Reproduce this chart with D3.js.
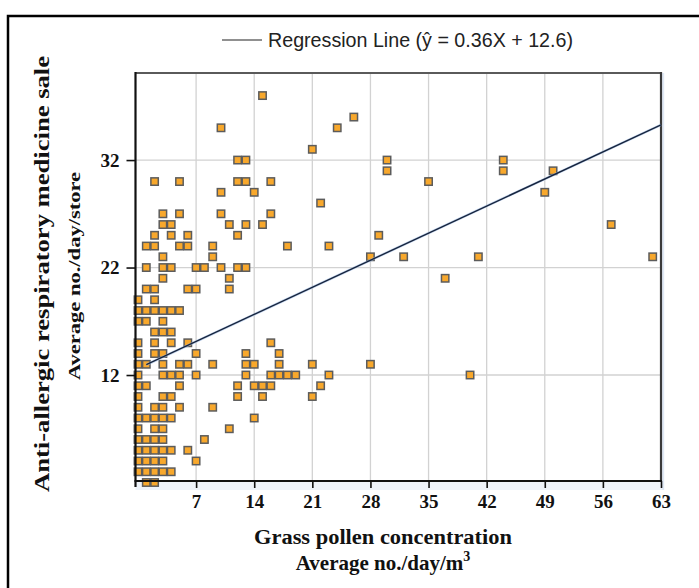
<!DOCTYPE html>
<html>
<head>
<meta charset="utf-8">
<script src="https://cdn.jsdelivr.net/npm/d3@7"></script>
<style>
  html, body { margin: 0; padding: 0; background: #fff; }
  svg { display: block; }
</style>
</head>
<body>
<script>
// Daily grass pollen concentration (x) against anti-allergic medicine sales (y),
// one entry per observation, listed row by row from the top of the chart.
const pollen = [
  15,
  26,
  10, 24,
  21,
  12, 13, 30, 44,
  30, 44, 50,
  2, 5, 12, 13, 16, 35,
  10, 14, 49,
  22,
  3, 5, 10, 16,
  3, 4, 11, 13, 15, 57,
  2, 4, 6, 12, 29,
  1, 2, 5, 6, 9, 18, 23,
  3, 9, 28, 32, 41, 62,
  1, 3, 4, 7, 8, 10, 12, 13,
  3, 11, 37,
  1, 2, 6, 7, 11,
  0, 2,
  0, 1, 2, 3, 4, 5,
  0, 1, 3,
  2, 3, 4,
  0, 2, 4, 6, 16,
  0, 2, 3, 7, 13, 17,
  0, 1, 3, 5, 6, 9, 13, 14, 17, 21, 28,
  0, 3, 4, 5, 7, 13, 16, 17, 18, 19, 23, 40,
  0, 1, 5, 12, 14, 15, 16, 22,
  0, 3, 4, 12, 15, 21,
  0, 2, 3, 5, 9,
  0, 1, 2, 3, 4, 14,
  0, 2, 3, 11,
  0, 1, 2, 3, 8,
  0, 1, 2, 3, 4, 6,
  0, 1, 2, 3, 7,
  0, 1, 2, 3, 4,
  1, 2
];
const sales = [
  38,
  36,
  35, 35,
  33,
  32, 32, 32, 32,
  31, 31, 31,
  30, 30, 30, 30, 30, 30,
  29, 29, 29,
  28,
  27, 27, 27, 27,
  26, 26, 26, 26, 26, 26,
  25, 25, 25, 25, 25,
  24, 24, 24, 24, 24, 24, 24,
  23, 23, 23, 23, 23, 23,
  22, 22, 22, 22, 22, 22, 22, 22,
  21, 21, 21,
  20, 20, 20, 20, 20,
  19, 19,
  18, 18, 18, 18, 18, 18,
  17, 17, 17,
  16, 16, 16,
  15, 15, 15, 15, 15,
  14, 14, 14, 14, 14, 14,
  13, 13, 13, 13, 13, 13, 13, 13, 13, 13, 13,
  12, 12, 12, 12, 12, 12, 12, 12, 12, 12, 12, 12,
  11, 11, 11, 11, 11, 11, 11, 11,
  10, 10, 10, 10, 10, 10,
  9, 9, 9, 9, 9,
  8, 8, 8, 8, 8, 8,
  7, 7, 7, 7,
  6, 6, 6, 6, 6,
  5, 5, 5, 5, 5, 5,
  4, 4, 4, 4, 4,
  3, 3, 3, 3, 3,
  2, 2
];

const xTicks = [7, 14, 21, 28, 35, 42, 49, 56, 63];
const yTicks = [12, 22, 32];

// Fitted regression line
const slope = 0.36;
const intercept = 12.6;
const fitRange = [1, 63];

const legendText = "Regression Line (\u0177 = 0.36X + 12.6)";
const xTitle1 = "Grass pollen concentration";
const xTitle2 = "Average no./day/m";
const yTitle1 = "Anti-allergic respiratory medicine sale";
const yTitle2 = "Average no./day/store";

const W = 699, H = 588;
const plot = { left: 135.5, right: 661, top: 73, bottom: 481 };

const svg = d3.select("body").append("svg")
  .attr("width", W).attr("height", H);

const x = d3.scaleLinear().domain([-0.3, 63]).range([plot.left, plot.right]);
const y = d3.scaleLinear().domain([2.14, 40.1]).range([plot.bottom, plot.top]);

const serif = "'Liberation Serif', 'Times New Roman', serif";

// outer frame
svg.append("rect")
  .attr("x", 8).attr("y", 16).attr("width", 800).attr("height", 700)
  .attr("fill", "none").attr("stroke", "#000").attr("stroke-width", 2.5);

// legend
const leg = svg.append("g");
leg.append("line")
  .attr("x1", 222).attr("x2", 262).attr("y1", 40).attr("y2", 40)
  .attr("stroke", "#222").attr("stroke-width", 1.2);
leg.append("text")
  .attr("x", 268).attr("y", 46.5)
  .attr("font-family", "'Liberation Sans Narrow', 'Arial Narrow', 'Liberation Sans', Arial, sans-serif")
  .attr("font-size", 19.5)
  .attr("fill", "#222")
  .attr("textLength", 305).attr("lengthAdjust", "spacingAndGlyphs")
  .text(legendText);

// band under the x axis
svg.append("rect")
  .attr("x", plot.left).attr("y", plot.bottom + 1)
  .attr("width", plot.right - plot.left + 2).attr("height", 8)
  .attr("fill", "#eef3fa");

// gridlines
const grid = svg.append("g").attr("stroke", "#d2d2d2").attr("stroke-width", 1.3);
grid.selectAll("line.v").data(xTicks).join("line")
  .attr("class", "v")
  .attr("x1", d => x(d)).attr("x2", d => x(d))
  .attr("y1", plot.top).attr("y2", plot.bottom);
grid.selectAll("line.h").data(yTicks).join("line")
  .attr("class", "h")
  .attr("x1", plot.left).attr("x2", plot.right)
  .attr("y1", d => y(d)).attr("y2", d => y(d));

// top and right borders of the plot area
svg.append("line")
  .attr("x1", plot.left).attr("x2", plot.right).attr("y1", plot.top).attr("y2", plot.top)
  .attr("stroke", "#5a5a5a").attr("stroke-width", 2);
svg.append("line")
  .attr("x1", plot.right + 2.2).attr("x2", plot.right + 2.2).attr("y1", plot.top).attr("y2", plot.bottom + 9)
  .attr("stroke", "#dfe8f5").attr("stroke-width", 2);
svg.append("line")
  .attr("x1", plot.right).attr("x2", plot.right).attr("y1", plot.top - 1).attr("y2", plot.bottom)
  .attr("stroke", "#3a3a3a").attr("stroke-width", 2.2);

// observations
const pts = pollen.map((p, i) => ({ p, s: sales[i] }));
const sz = 7.4;
svg.append("g").selectAll("rect").data(pts).join("rect")
  .attr("x", d => x(d.p) - sz / 2)
  .attr("y", d => y(d.s) - sz / 2)
  .attr("width", sz).attr("height", sz)
  .attr("fill", "#f8a82c")
  .attr("stroke", "#5c5c5c")
  .attr("stroke-width", 1.5);

// regression line
const line = d3.line().x(d => x(d)).y(d => y(slope * d + intercept));
svg.append("path")
  .datum(fitRange)
  .attr("d", line)
  .attr("fill", "none")
  .attr("stroke", "#9fbde6").attr("stroke-width", 2.6).attr("opacity", 0.6);
svg.append("path")
  .datum(fitRange)
  .attr("d", line)
  .attr("fill", "none")
  .attr("stroke", "#17243d").attr("stroke-width", 1.4);

// axes
const xAxis = svg.append("g")
  .attr("transform", `translate(0,${plot.bottom})`)
  .call(d3.axisBottom(x).tickValues(xTicks).tickSize(7).tickSizeOuter(0).tickPadding(7).tickFormat(d3.format("d")));
const yAxis = svg.append("g")
  .attr("transform", `translate(${plot.left},0)`)
  .call(d3.axisLeft(y).tickValues(yTicks).tickSize(9).tickSizeOuter(0).tickPadding(7).tickFormat(d3.format("d")));

[xAxis, yAxis].forEach(g => {
  g.select(".domain").attr("stroke", "#111").attr("stroke-width", 2.2);
  g.selectAll(".tick line").attr("stroke", "#111").attr("stroke-width", 1.6);
  g.selectAll(".tick text")
    .attr("font-family", serif)
    .attr("font-weight", "bold")
    .attr("font-size", 19)
    .attr("fill", "#111");
});
// extend the axis lines to meet at the corner
yAxis.select(".domain").attr("d", `M0,${plot.top - 1}V${plot.bottom + 6}`);
xAxis.select(".domain").attr("d", `M${plot.left - 1},0H${plot.right + 1}`);

// x axis title
svg.append("text")
  .attr("x", 383).attr("y", 544)
  .attr("text-anchor", "middle")
  .attr("font-family", serif).attr("font-weight", "bold").attr("font-size", 20)
  .attr("fill", "#111")
  .attr("textLength", 258).attr("lengthAdjust", "spacingAndGlyphs")
  .text(xTitle1);
const xt2 = svg.append("text")
  .attr("x", 383).attr("y", 570)
  .attr("text-anchor", "middle")
  .attr("font-family", serif).attr("font-weight", "bold").attr("font-size", 21)
  .attr("fill", "#111");
xt2.append("tspan").text(xTitle2);
xt2.append("tspan").attr("dy", -9).attr("font-size", 14).text("3");

// y axis titles
svg.append("text")
  .attr("transform", "translate(49,274) rotate(-90)")
  .attr("text-anchor", "middle")
  .attr("font-family", serif).attr("font-weight", "bold").attr("font-size", 22)
  .attr("fill", "#111")
  .attr("textLength", 436).attr("lengthAdjust", "spacingAndGlyphs")
  .text(yTitle1);
svg.append("text")
  .attr("transform", "translate(80,276) rotate(-90)")
  .attr("text-anchor", "middle")
  .attr("font-family", serif).attr("font-weight", "bold").attr("font-size", 17)
  .attr("fill", "#111")
  .attr("textLength", 208).attr("lengthAdjust", "spacingAndGlyphs")
  .text(yTitle2);
</script>
</body>
</html>
